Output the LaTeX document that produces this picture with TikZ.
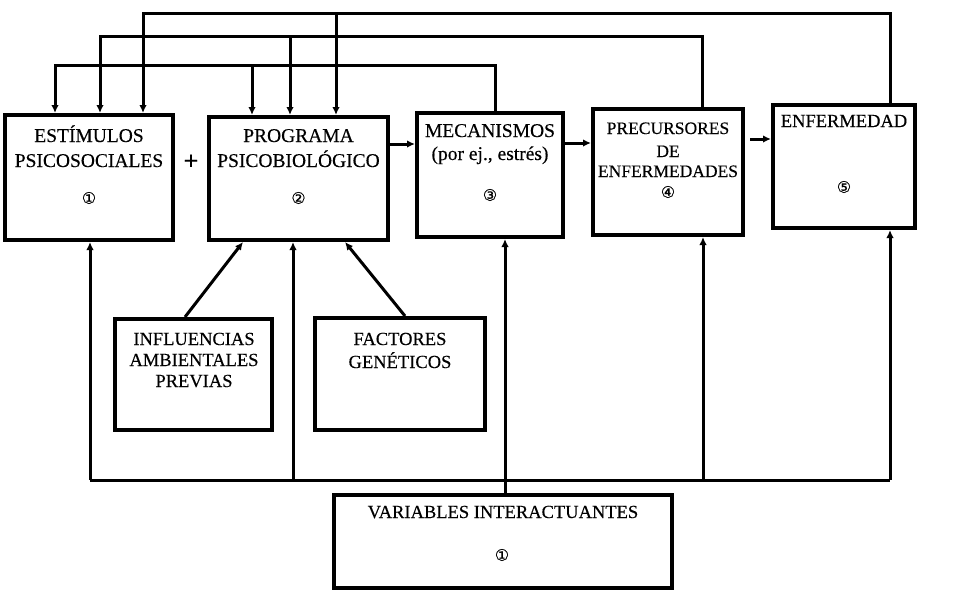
\documentclass[tikz,border=0pt]{standalone}
\usepackage{fontspec}
\setmainfont{Liberation Serif}[FakeBold=0.3]
\newfontfamily\circfont{DejaVu Sans}[FakeBold=0.4]
\usetikzlibrary{arrows.meta}
\begin{document}
\begin{tikzpicture}[x=1pt,y=-1pt,
  box/.style={draw, line width=4pt, rectangle, inner sep=0pt},
  conn/.style={line width=3pt},
  arr/.style={conn, -{Latex[length=8pt,width=7.5pt]}},
  lbl/.style={anchor=base, inner sep=0pt, font=\fontsize{18.5}{22}\selectfont},
  lblb/.style={anchor=base, inner sep=0pt, font=\fontsize{19.5}{22}\selectfont},
  lbls/.style={anchor=base, inner sep=0pt, font=\fontsize{17.5}{22}\selectfont},
  num/.style={inner sep=0pt, font=\circfont\fontsize{16}{18}\selectfont}]
\useasboundingbox[fill=white] (0,0) rectangle (977,590);

% boxes
\node[box, minimum width=168pt, minimum height=125pt] (b1) at (89,177.5) {};
\node[box, minimum width=179pt, minimum height=123pt] (b2) at (298.5,178.5) {};
\node[box, minimum width=146pt, minimum height=124pt] (b3) at (490,175) {};
\node[box, minimum width=150pt, minimum height=126pt] (b4) at (668,172) {};
\node[box, minimum width=142pt, minimum height=123pt] (b5) at (844,166.5) {};
\node[box, minimum width=157pt, minimum height=111pt] (inf) at (193.5,374.5) {};
\node[box, minimum width=170pt, minimum height=112pt] (fac) at (400,374) {};
\node[box, minimum width=338pt, minimum height=93pt] (var) at (503,541) {};

% labels
\node[lblb] (t1a) at (89,142) {ESTÍMULOS};
\node[lblb] (t1b) at (89,167) {PSICOSOCIALES};
\node[num] (n1) at (89,198) {①};
\node[lblb] (t2a) at (298.5,142) {PROGRAMA};
\node[lblb] (t2b) at (298.5,167) {PSICOBIOLÓGICO};
\node[num] (n2) at (298.5,198) {②};
\node[lblb] (t3a) at (490,137) {MECANISMOS};
\node[lblb] (t3b) at (490,160) {(por ej., estrés)};
\node[num] (n3) at (490,195) {③};
\node[lbls] (t4a) at (668,134) {PRECURSORES};
\node[lbls] (t4b) at (668,157) {DE};
\node[lbls] (t4c) at (668,177) {ENFERMEDADES};
\node[num] (n4) at (668,192) {④};
\node[lbl] (t5a) at (844,127) {ENFERMEDAD};
\node[num] (n5) at (844,187) {⑤};
\node[lbl] (t6a) at (194,345) {INFLUENCIAS};
\node[lbl] (t6b) at (194,366) {AMBIENTALES};
\node[lbl] (t6c) at (194,387) {PREVIAS};
\node[lbl] (t7a) at (400,345) {FACTORES};
\node[lbl] (t7b) at (400,368) {GENÉTICOS};
\node[lbl] (t8a) at (503,518) {VARIABLES INTERACTUANTES};
\node[num] (n8) at (502,555) {①};
\node[font=\fontsize{26}{26}\selectfont\bfseries, inner sep=0pt] (plus) at (191,162) {+};

% top feedback lines
\coordinate (a0) at (890,13); \coordinate (a1) at (143,13); \coordinate (a2) at (336,13);
\coordinate (bb0) at (702,36); \coordinate (bb1) at (100,36); \coordinate (bb2) at (290,36);
\coordinate (c0) at (495,65); \coordinate (c1) at (55,65); \coordinate (c2) at (252,65);
\draw[arr] (b5.north -| a0) -- (a0) -- (a1) -- (b1.north -| a1);
\draw[arr] (a2) -- (b2.north -| a2);
\draw[arr] (b4.north -| bb0) -- (bb0) -- (bb1) -- (b1.north -| bb1);
\draw[arr] (bb2) -- (b2.north -| bb2);
\draw[arr] (b3.north -| c0) -- (c0) -- (c1) -- (b1.north -| c1);
\draw[arr] (c2) -- (b2.north -| c2);

% chain arrows
\coordinate (h1) at (400,144); \coordinate (h2) at (580,143); \coordinate (h3) at (760,139);
\draw[arr] (b2.east |- h1) -- (b3.west |- h1);
\draw[arr] (b3.east |- h2) -- (b4.west |- h2);
\draw[arr] ([xshift=5pt]b4.east |- h3) -- (b5.west |- h3);

% bottom distribution
\coordinate (l0) at (90,480); \coordinate (l1) at (890,480);
\coordinate (l2) at (293,480); \coordinate (l3) at (505,480); \coordinate (l4) at (703,480);
\draw[conn] (l0) -- (l1);
\draw[arr] (l0) -- (b1.south -| l0);
\draw[arr] (l2) -- (b2.south -| l2);
\draw[arr] (l4) -- (b4.south -| l4);
\draw[arr] (l1) -- (b5.south -| l1);
\draw[arr] (var.north -| l3) -- (b3.south -| l3);

% diagonal inputs
\coordinate (d1) at (185,0); \coordinate (d2) at (243,0);
\coordinate (d3) at (405,0); \coordinate (d4) at (345,0);
\draw[arr] (inf.north -| d1) -- (b2.south -| d2);
\draw[arr] (fac.north -| d3) -- (b2.south -| d4);
\end{tikzpicture}
\end{document}
